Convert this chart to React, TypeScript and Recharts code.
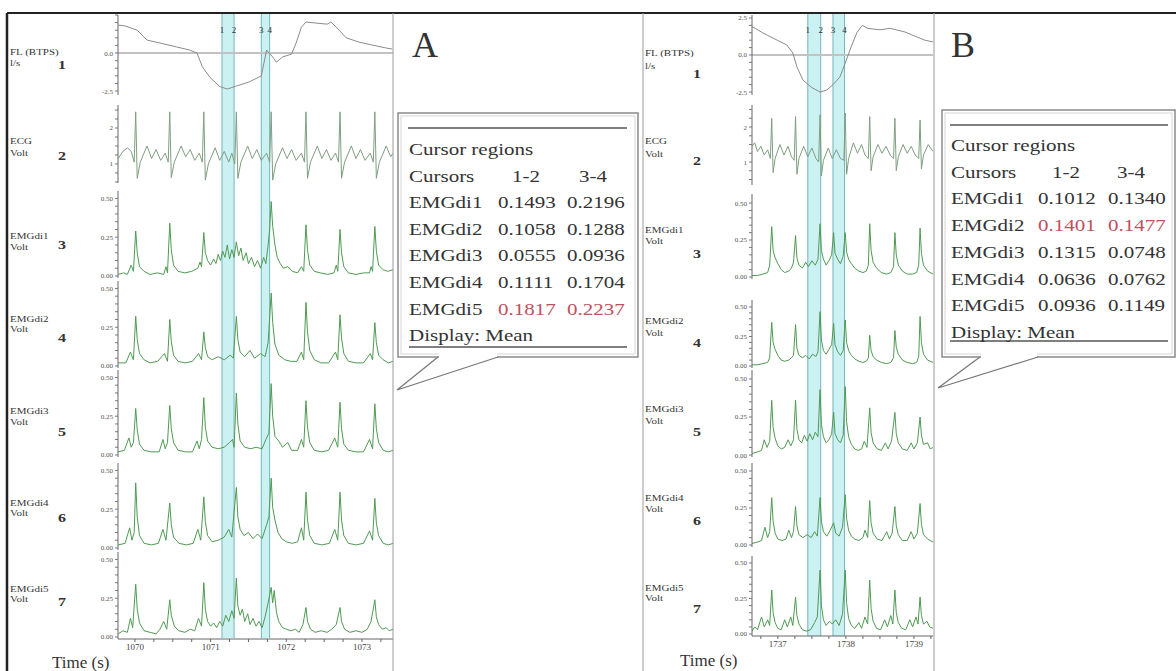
import React from "react";
import { LineChart, Line, XAxis, YAxis, ReferenceArea, ReferenceLine } from "recharts";

// ---- panel A : time (s) / value pairs ----
const A_FL = [
  [1069.78, 1.84], [1069.87, 1.78], [1070.03, 1.5], [1070.16, 0.85], [1070.33, 0.66], [1070.55, 0.4],
  [1070.72, 0.2], [1070.82, 0], [1070.89, -0.9], [1070.99, -1.6], [1071.12, -2.2], [1071.22, -2.37],
  [1071.34, -2.17], [1071.51, -1.9], [1071.67, -1.5], [1071.74, 0.2], [1071.82, -0.26], [1071.87, -0.6],
  [1071.95, -0.26], [1072.07, -0.07], [1072.13, 0.66], [1072.2, 1.7], [1072.26, 2.04], [1072.39, 1.97],
  [1072.54, 1.9], [1072.59, 2.04], [1072.7, 1.5], [1072.79, 1.0], [1072.96, 0.72], [1073.13, 0.53],
  [1073.32, 0.33], [1073.4, 0.26],
];

const A_ECG = [
  [1069.78, 1.15], [1069.84, 1.35], [1069.9, 1.45], [1069.95, 1.35], [1069.99, 1.05],
  [1070.01, 2.45], [1070.03, 0.6], [1070.07, 1.05], [1070.16, 1.5], [1070.22, 1.15], [1070.28, 1.4], [1070.34, 1.1], [1070.4, 1.3], [1070.44, 1.05],
  [1070.46, 2.45], [1070.48, 0.62], [1070.52, 1.05], [1070.61, 1.5], [1070.67, 1.2], [1070.73, 1.4], [1070.79, 1.1], [1070.85, 1.3], [1070.89, 1.05],
  [1070.91, 2.45], [1070.93, 0.55], [1070.97, 1.0], [1071.06, 1.45], [1071.12, 1.1], [1071.18, 1.35], [1071.24, 1.05], [1071.28, 1.3], [1071.32, 1.0],
  [1071.34, 2.45], [1071.36, 0.6], [1071.4, 1.05], [1071.49, 1.5], [1071.55, 1.15], [1071.61, 1.4], [1071.67, 1.1], [1071.74, 1.3], [1071.78, 1.05],
  [1071.8, 2.45], [1071.82, 0.55], [1071.86, 1.0], [1071.95, 1.45], [1072.01, 1.15], [1072.07, 1.4], [1072.13, 1.1], [1072.2, 1.3], [1072.24, 1.05],
  [1072.26, 2.45], [1072.28, 0.6], [1072.32, 1.05], [1072.41, 1.5], [1072.47, 1.15], [1072.53, 1.4], [1072.59, 1.1], [1072.65, 1.3], [1072.69, 1.05],
  [1072.71, 2.45], [1072.73, 0.6], [1072.77, 1.05], [1072.86, 1.5], [1072.92, 1.15], [1072.98, 1.4], [1073.04, 1.1], [1073.11, 1.3], [1073.15, 1.05],
  [1073.17, 2.45], [1073.19, 0.6], [1073.23, 1.05], [1073.32, 1.5], [1073.38, 1.2], [1073.41, 1.3],
];

const A_EMG1 = [
  [1069.78, 0.01], [1069.85, 0.02], [1069.9, 0.01], [1069.95, 0.07], [1069.98, 0.03], [1070.01, 0.29], [1070.03, 0.15], [1070.06, 0.06],
  [1070.12, 0.03], [1070.2, 0.01], [1070.3, 0.02], [1070.38, 0.01], [1070.41, 0.06], [1070.43, 0.02], [1070.46, 0.34], [1070.48, 0.17],
  [1070.51, 0.07], [1070.57, 0.03], [1070.66, 0.02], [1070.75, 0.03], [1070.83, 0.05], [1070.86, 0.09], [1070.88, 0.06], [1070.91, 0.28],
  [1070.93, 0.15], [1070.96, 0.1], [1071.0, 0.07], [1071.04, 0.11], [1071.07, 0.08], [1071.1, 0.14], [1071.13, 0.1], [1071.16, 0.16],
  [1071.19, 0.12], [1071.22, 0.2], [1071.25, 0.11], [1071.28, 0.17], [1071.31, 0.12], [1071.34, 0.22], [1071.37, 0.13], [1071.4, 0.18],
  [1071.43, 0.1], [1071.47, 0.15], [1071.5, 0.08], [1071.54, 0.12], [1071.58, 0.06], [1071.62, 0.1], [1071.66, 0.05], [1071.7, 0.12],
  [1071.73, 0.08], [1071.76, 0.2], [1071.78, 0.3], [1071.8, 0.48], [1071.82, 0.32], [1071.85, 0.2], [1071.88, 0.12], [1071.92, 0.08],
  [1071.96, 0.05], [1072.02, 0.06], [1072.08, 0.03], [1072.15, 0.02], [1072.2, 0.06], [1072.23, 0.03], [1072.26, 0.33], [1072.28, 0.17],
  [1072.31, 0.07], [1072.37, 0.03], [1072.45, 0.02], [1072.55, 0.01], [1072.63, 0.02], [1072.66, 0.07], [1072.68, 0.03], [1072.71, 0.3],
  [1072.73, 0.15], [1072.76, 0.06], [1072.82, 0.02], [1072.92, 0.01], [1073.02, 0.02], [1073.1, 0.02], [1073.12, 0.06], [1073.14, 0.03],
  [1073.17, 0.32], [1073.19, 0.16], [1073.22, 0.07], [1073.28, 0.04], [1073.34, 0.03], [1073.41, 0.04],
];

const A_EMG2 = [
  [1069.78, 0.02], [1069.88, 0.02], [1069.94, 0.09], [1069.98, 0.04], [1070.01, 0.32], [1070.03, 0.17], [1070.06, 0.08], [1070.12, 0.04],
  [1070.2, 0.02], [1070.3, 0.03], [1070.39, 0.08], [1070.43, 0.03], [1070.46, 0.3], [1070.48, 0.16], [1070.51, 0.07], [1070.57, 0.03],
  [1070.66, 0.02], [1070.76, 0.03], [1070.84, 0.08], [1070.88, 0.04], [1070.91, 0.22], [1070.93, 0.12], [1070.96, 0.06], [1071.02, 0.04],
  [1071.1, 0.06], [1071.18, 0.04], [1071.26, 0.07], [1071.3, 0.05], [1071.34, 0.32], [1071.36, 0.17], [1071.39, 0.09], [1071.45, 0.06],
  [1071.52, 0.1], [1071.58, 0.05], [1071.66, 0.08], [1071.72, 0.06], [1071.76, 0.15], [1071.8, 0.47], [1071.82, 0.28], [1071.85, 0.14],
  [1071.9, 0.07], [1071.98, 0.04], [1072.06, 0.03], [1072.14, 0.03], [1072.2, 0.09], [1072.23, 0.04], [1072.26, 0.41], [1072.28, 0.22],
  [1072.31, 0.1], [1072.37, 0.04], [1072.46, 0.02], [1072.56, 0.02], [1072.65, 0.09], [1072.68, 0.04], [1072.71, 0.33], [1072.73, 0.18],
  [1072.76, 0.08], [1072.82, 0.03], [1072.92, 0.02], [1073.02, 0.02], [1073.11, 0.08], [1073.14, 0.04], [1073.17, 0.28], [1073.19, 0.15],
  [1073.22, 0.07], [1073.28, 0.04], [1073.35, 0.02], [1073.41, 0.03],
];

const A_EMG3 = [
  [1069.78, 0.02], [1069.86, 0.03], [1069.92, 0.11], [1069.95, 0.05], [1069.98, 0.08], [1070.01, 0.3], [1070.03, 0.16], [1070.06, 0.07],
  [1070.12, 0.03], [1070.22, 0.02], [1070.32, 0.02], [1070.37, 0.1], [1070.4, 0.04], [1070.43, 0.08], [1070.46, 0.32], [1070.48, 0.17],
  [1070.51, 0.08], [1070.57, 0.03], [1070.67, 0.02], [1070.76, 0.02], [1070.82, 0.09], [1070.85, 0.04], [1070.88, 0.1], [1070.91, 0.37],
  [1070.93, 0.18], [1070.96, 0.09], [1071.02, 0.05], [1071.1, 0.04], [1071.18, 0.05], [1071.25, 0.08], [1071.29, 0.1], [1071.31, 0.05],
  [1071.34, 0.4], [1071.36, 0.2], [1071.39, 0.09], [1071.45, 0.05], [1071.53, 0.04], [1071.6, 0.05], [1071.68, 0.04], [1071.73, 0.1],
  [1071.77, 0.14], [1071.8, 0.46], [1071.82, 0.25], [1071.85, 0.12], [1071.9, 0.09], [1071.95, 0.05], [1072.02, 0.08], [1072.07, 0.03],
  [1072.15, 0.03], [1072.2, 0.1], [1072.23, 0.05], [1072.26, 0.35], [1072.28, 0.18], [1072.31, 0.08], [1072.37, 0.03], [1072.47, 0.02],
  [1072.56, 0.03], [1072.64, 0.11], [1072.68, 0.05], [1072.71, 0.34], [1072.73, 0.17], [1072.76, 0.07], [1072.82, 0.03], [1072.92, 0.02],
  [1073.02, 0.02], [1073.1, 0.1], [1073.14, 0.04], [1073.17, 0.33], [1073.19, 0.17], [1073.22, 0.08], [1073.28, 0.03], [1073.35, 0.02],
  [1073.41, 0.03],
];

const A_EMG4 = [
  [1069.78, 0.02], [1069.87, 0.03], [1069.93, 0.13], [1069.96, 0.05], [1069.99, 0.1], [1070.01, 0.42], [1070.03, 0.2], [1070.06, 0.08],
  [1070.12, 0.03], [1070.22, 0.02], [1070.31, 0.03], [1070.37, 0.12], [1070.41, 0.05], [1070.46, 0.29], [1070.48, 0.15], [1070.51, 0.07],
  [1070.58, 0.03], [1070.68, 0.02], [1070.77, 0.03], [1070.83, 0.12], [1070.87, 0.05], [1070.91, 0.33], [1070.93, 0.17], [1070.96, 0.08],
  [1071.02, 0.04], [1071.1, 0.05], [1071.18, 0.07], [1071.24, 0.12], [1071.28, 0.07], [1071.34, 0.39], [1071.36, 0.2], [1071.39, 0.12],
  [1071.44, 0.08], [1071.5, 0.1], [1071.56, 0.06], [1071.62, 0.09], [1071.68, 0.06], [1071.74, 0.15], [1071.77, 0.2], [1071.8, 0.45],
  [1071.82, 0.26], [1071.85, 0.18], [1071.89, 0.1], [1071.94, 0.06], [1072.0, 0.04], [1072.08, 0.03], [1072.15, 0.04], [1072.2, 0.13],
  [1072.23, 0.05], [1072.26, 0.36], [1072.28, 0.18], [1072.31, 0.08], [1072.37, 0.03], [1072.47, 0.02], [1072.57, 0.03], [1072.64, 0.12],
  [1072.68, 0.05], [1072.71, 0.36], [1072.73, 0.18], [1072.76, 0.08], [1072.82, 0.03], [1072.92, 0.02], [1073.02, 0.03], [1073.1, 0.11],
  [1073.14, 0.05], [1073.17, 0.32], [1073.19, 0.16], [1073.22, 0.08], [1073.28, 0.03], [1073.35, 0.02], [1073.41, 0.03],
];

const A_EMG5 = [
  [1069.78, 0.02], [1069.84, 0.04], [1069.9, 0.03], [1069.94, 0.12], [1069.97, 0.06], [1070.01, 0.34], [1070.03, 0.18], [1070.06, 0.09],
  [1070.12, 0.04], [1070.2, 0.03], [1070.28, 0.02], [1070.33, 0.05], [1070.38, 0.1], [1070.42, 0.05], [1070.46, 0.24], [1070.48, 0.14],
  [1070.52, 0.07], [1070.58, 0.04], [1070.66, 0.03], [1070.73, 0.05], [1070.79, 0.04], [1070.84, 0.12], [1070.88, 0.07], [1070.91, 0.35],
  [1070.93, 0.18], [1070.96, 0.1], [1071.0, 0.07], [1071.04, 0.09], [1071.08, 0.06], [1071.12, 0.1], [1071.16, 0.07], [1071.2, 0.14],
  [1071.24, 0.1], [1071.28, 0.17], [1071.31, 0.12], [1071.34, 0.38], [1071.36, 0.2], [1071.39, 0.14], [1071.42, 0.18], [1071.45, 0.1],
  [1071.49, 0.15], [1071.52, 0.08], [1071.56, 0.12], [1071.6, 0.07], [1071.64, 0.1], [1071.68, 0.06], [1071.72, 0.13], [1071.76, 0.22],
  [1071.8, 0.32], [1071.82, 0.22], [1071.84, 0.3], [1071.87, 0.16], [1071.9, 0.1], [1071.95, 0.06], [1072.0, 0.05], [1072.06, 0.04],
  [1072.12, 0.05], [1072.17, 0.03], [1072.22, 0.08], [1072.26, 0.19], [1072.28, 0.1], [1072.32, 0.05], [1072.38, 0.03], [1072.46, 0.04],
  [1072.54, 0.03], [1072.6, 0.05], [1072.66, 0.08], [1072.71, 0.19], [1072.73, 0.1], [1072.77, 0.05], [1072.84, 0.03], [1072.92, 0.04],
  [1073.0, 0.03], [1073.07, 0.05], [1073.12, 0.1], [1073.17, 0.24], [1073.19, 0.13], [1073.22, 0.08], [1073.27, 0.05], [1073.32, 0.06],
  [1073.36, 0.04], [1073.41, 0.05],
];

// ---- panel B ----
const B_FL = [
  [1736.62, 1.9], [1736.66, 1.82], [1736.78, 1.49], [1736.99, 1.0], [1737.13, 0.68], [1737.22, 0.14], [1737.28, -0.8],
  [1737.37, -1.7], [1737.5, -2.2], [1737.62, -2.5], [1737.72, -2.36], [1737.81, -2.0], [1737.91, -1.5], [1737.99, -0.55],
  [1738.06, 0.34], [1738.16, 1.5], [1738.24, 2.0], [1738.32, 1.8], [1738.5, 1.7], [1738.65, 1.8], [1738.87, 1.55],
  [1739.01, 1.28], [1739.16, 1.0], [1739.28, 0.88],
];

const B_ECG = [
  [1736.62, 1.45], [1736.66, 1.55], [1736.7, 1.3], [1736.75, 1.45], [1736.8, 1.2], [1736.85, 1.35], [1736.89, 1.1],
  [1736.91, 2.25], [1736.93, 0.7], [1736.96, 1.1], [1737.03, 1.5], [1737.09, 1.2], [1737.15, 1.45], [1737.2, 1.15], [1737.24, 1.05],
  [1737.26, 2.3], [1737.28, 0.65], [1737.31, 1.1], [1737.38, 1.45], [1737.44, 1.15], [1737.5, 1.4], [1737.56, 1.1], [1737.6, 1.0],
  [1737.62, 2.35], [1737.64, 0.6], [1737.67, 1.05], [1737.74, 1.4], [1737.8, 1.1], [1737.86, 1.35], [1737.92, 1.1], [1737.97, 1.05],
  [1737.99, 2.4], [1738.01, 0.65], [1738.04, 1.1], [1738.11, 1.55], [1738.17, 1.25], [1738.23, 1.5], [1738.28, 1.2], [1738.33, 1.1],
  [1738.35, 2.3], [1738.37, 0.75], [1738.4, 1.15], [1738.47, 1.5], [1738.53, 1.25], [1738.59, 1.45], [1738.65, 1.2], [1738.7, 1.1],
  [1738.72, 2.25], [1738.74, 0.75], [1738.77, 1.15], [1738.84, 1.5], [1738.9, 1.25], [1738.96, 1.45], [1739.02, 1.2], [1739.07, 1.1],
  [1739.09, 2.2], [1739.11, 0.8], [1739.14, 1.2], [1739.21, 1.5], [1739.28, 1.3],
];

const B_EMG1 = [
  [1736.62, 0.01], [1736.7, 0.01], [1736.78, 0.02], [1736.85, 0.03], [1736.88, 0.08], [1736.91, 0.34], [1736.93, 0.18], [1736.96, 0.13],
  [1737.0, 0.09], [1737.05, 0.05], [1737.1, 0.03], [1737.16, 0.04], [1737.2, 0.06], [1737.23, 0.1], [1737.26, 0.28], [1737.28, 0.13],
  [1737.31, 0.08], [1737.36, 0.06], [1737.41, 0.1], [1737.45, 0.07], [1737.5, 0.11], [1737.55, 0.08], [1737.59, 0.12], [1737.62, 0.36],
  [1737.64, 0.18], [1737.67, 0.12], [1737.71, 0.08], [1737.75, 0.11], [1737.79, 0.15], [1737.82, 0.3], [1737.84, 0.16], [1737.88, 0.12],
  [1737.92, 0.09], [1737.96, 0.14], [1737.99, 0.3], [1738.01, 0.17], [1738.04, 0.12], [1738.08, 0.09], [1738.13, 0.06], [1738.19, 0.04],
  [1738.25, 0.03], [1738.3, 0.04], [1738.33, 0.08], [1738.35, 0.36], [1738.37, 0.18], [1738.4, 0.1], [1738.45, 0.06], [1738.52, 0.03],
  [1738.6, 0.02], [1738.66, 0.03], [1738.7, 0.07], [1738.72, 0.3], [1738.74, 0.15], [1738.77, 0.08], [1738.83, 0.04], [1738.9, 0.02],
  [1738.98, 0.02], [1739.04, 0.03], [1739.07, 0.08], [1739.09, 0.33], [1739.11, 0.16], [1739.14, 0.08], [1739.2, 0.04], [1739.28, 0.02],
];

const B_EMG2 = [
  [1736.62, 0.01], [1736.7, 0.01], [1736.78, 0.02], [1736.85, 0.03], [1736.88, 0.07], [1736.91, 0.37], [1736.93, 0.2], [1736.96, 0.14],
  [1737.0, 0.09], [1737.05, 0.05], [1737.1, 0.04], [1737.16, 0.05], [1737.2, 0.07], [1737.23, 0.09], [1737.26, 0.35], [1737.28, 0.15],
  [1737.31, 0.09], [1737.36, 0.07], [1737.41, 0.09], [1737.46, 0.06], [1737.51, 0.1], [1737.56, 0.08], [1737.59, 0.12], [1737.62, 0.46],
  [1737.64, 0.22], [1737.67, 0.13], [1737.71, 0.1], [1737.75, 0.14], [1737.79, 0.18], [1737.82, 0.36], [1737.84, 0.18], [1737.88, 0.12],
  [1737.92, 0.09], [1737.96, 0.13], [1737.99, 0.39], [1738.01, 0.2], [1738.04, 0.13], [1738.08, 0.09], [1738.13, 0.06], [1738.19, 0.04],
  [1738.25, 0.03], [1738.3, 0.04], [1738.33, 0.07], [1738.35, 0.26], [1738.37, 0.13], [1738.4, 0.08], [1738.45, 0.05], [1738.52, 0.03],
  [1738.6, 0.02], [1738.66, 0.03], [1738.7, 0.07], [1738.72, 0.3], [1738.74, 0.16], [1738.77, 0.1], [1738.83, 0.05], [1738.9, 0.03],
  [1738.98, 0.02], [1739.04, 0.03], [1739.07, 0.08], [1739.09, 0.42], [1739.11, 0.2], [1739.14, 0.1], [1739.2, 0.05], [1739.28, 0.03],
];

const B_EMG3 = [
  [1736.62, 0.01], [1736.7, 0.02], [1736.76, 0.03], [1736.8, 0.1], [1736.84, 0.05], [1736.88, 0.09], [1736.91, 0.36], [1736.93, 0.18],
  [1736.96, 0.11], [1737.0, 0.06], [1737.05, 0.04], [1737.1, 0.05], [1737.15, 0.1], [1737.19, 0.06], [1737.23, 0.1], [1737.26, 0.36],
  [1737.28, 0.17], [1737.31, 0.1], [1737.35, 0.08], [1737.39, 0.13], [1737.43, 0.09], [1737.47, 0.14], [1737.51, 0.1], [1737.55, 0.15],
  [1737.59, 0.12], [1737.62, 0.43], [1737.64, 0.2], [1737.67, 0.12], [1737.71, 0.08], [1737.75, 0.1], [1737.79, 0.14], [1737.82, 0.28],
  [1737.84, 0.14], [1737.88, 0.1], [1737.92, 0.08], [1737.96, 0.13], [1737.99, 0.45], [1738.01, 0.22], [1738.04, 0.12], [1738.08, 0.07],
  [1738.13, 0.04], [1738.18, 0.03], [1738.23, 0.04], [1738.27, 0.09], [1738.31, 0.05], [1738.35, 0.31], [1738.37, 0.15], [1738.4, 0.08],
  [1738.46, 0.04], [1738.52, 0.03], [1738.58, 0.08], [1738.62, 0.04], [1738.67, 0.09], [1738.72, 0.28], [1738.74, 0.14], [1738.77, 0.08],
  [1738.83, 0.04], [1738.9, 0.03], [1738.96, 0.08], [1739.0, 0.04], [1739.05, 0.08], [1739.09, 0.25], [1739.11, 0.13], [1739.14, 0.07],
  [1739.2, 0.08], [1739.24, 0.04], [1739.28, 0.05],
];

const B_EMG4 = [
  [1736.62, 0.01], [1736.7, 0.02], [1736.76, 0.03], [1736.81, 0.12], [1736.85, 0.05], [1736.88, 0.09], [1736.91, 0.32], [1736.93, 0.16],
  [1736.96, 0.08], [1737.0, 0.04], [1737.06, 0.03], [1737.12, 0.04], [1737.16, 0.1], [1737.2, 0.05], [1737.23, 0.09], [1737.26, 0.26],
  [1737.28, 0.13], [1737.31, 0.07], [1737.37, 0.05], [1737.43, 0.07], [1737.49, 0.05], [1737.54, 0.09], [1737.58, 0.06], [1737.62, 0.32],
  [1737.64, 0.16], [1737.67, 0.09], [1737.72, 0.06], [1737.77, 0.1], [1737.82, 0.15], [1737.85, 0.08], [1737.9, 0.06], [1737.95, 0.12],
  [1737.99, 0.34], [1738.01, 0.18], [1738.04, 0.1], [1738.08, 0.06], [1738.13, 0.04], [1738.19, 0.03], [1738.25, 0.05], [1738.28, 0.1],
  [1738.32, 0.05], [1738.35, 0.3], [1738.37, 0.15], [1738.4, 0.08], [1738.46, 0.04], [1738.53, 0.03], [1738.6, 0.09], [1738.64, 0.04],
  [1738.68, 0.08], [1738.72, 0.26], [1738.74, 0.13], [1738.77, 0.07], [1738.83, 0.03], [1738.9, 0.03], [1738.96, 0.09], [1739.0, 0.04],
  [1739.05, 0.08], [1739.09, 0.28], [1739.11, 0.14], [1739.14, 0.07], [1739.2, 0.04], [1739.28, 0.02],
];

const B_EMG5 = [
  [1736.62, 0.02], [1736.66, 0.05], [1736.7, 0.03], [1736.76, 0.12], [1736.8, 0.05], [1736.85, 0.1], [1736.88, 0.06], [1736.91, 0.31],
  [1736.93, 0.15], [1736.96, 0.08], [1737.0, 0.04], [1737.05, 0.03], [1737.1, 0.1], [1737.14, 0.05], [1737.19, 0.12], [1737.22, 0.06],
  [1737.26, 0.26], [1737.28, 0.13], [1737.31, 0.07], [1737.36, 0.03], [1737.42, 0.02], [1737.48, 0.03], [1737.54, 0.08], [1737.58, 0.12],
  [1737.62, 0.45], [1737.64, 0.2], [1737.67, 0.1], [1737.71, 0.06], [1737.76, 0.09], [1737.8, 0.07], [1737.85, 0.1], [1737.9, 0.06],
  [1737.95, 0.14], [1737.99, 0.45], [1738.01, 0.22], [1738.04, 0.11], [1738.08, 0.06], [1738.13, 0.04], [1738.19, 0.08], [1738.23, 0.04],
  [1738.28, 0.12], [1738.32, 0.07], [1738.35, 0.38], [1738.37, 0.18], [1738.4, 0.09], [1738.45, 0.04], [1738.51, 0.03], [1738.57, 0.1],
  [1738.61, 0.05], [1738.66, 0.13], [1738.69, 0.07], [1738.72, 0.31], [1738.74, 0.15], [1738.77, 0.08], [1738.82, 0.04], [1738.88, 0.03],
  [1738.94, 0.1], [1738.98, 0.05], [1739.03, 0.12], [1739.06, 0.07], [1739.09, 0.26], [1739.11, 0.13], [1739.14, 0.07], [1739.19, 0.09],
  [1739.23, 0.05], [1739.28, 0.04],
];

// cursor positions (s): 1, 2, 3, 4
const A_CURSORS = [1071.15, 1071.31, 1071.67, 1071.78];
const B_CURSORS = [1737.44, 1737.63, 1737.81, 1737.98];

// ticks
const EMG_TICKS = [0, 0.05, 0.1, 0.15, 0.2, 0.25, 0.3, 0.35, 0.4, 0.45, 0.5];
const EMG_LABELS = [0, 0.25, 0.5];
const FL_TICKS = [-2.5, -2, -1.5, -1, -0.5, 0, 0.5, 1, 1.5, 2, 2.5];
const FL_LABELS_A = [-2.5, 0];
const FL_LABELS_B = [-2.5, 0, 2.5];
const ECG_TICKS = [0.5, 0.75, 1, 1.25, 1.5, 1.75, 2, 2.25, 2.5];
const ECG_LABELS = [1, 2];
const A_X_TICKS = [1070, 1070.25, 1070.5, 1070.75, 1071, 1071.25, 1071.5, 1071.75, 1072, 1072.25, 1072.5, 1072.75, 1073, 1073.25];
const B_X_TICKS = [1736.75, 1737, 1737.25, 1737.5, 1737.75, 1738, 1738.25, 1738.5, 1738.75, 1739, 1739.25];

// callout tables
const CHANNELS = ["EMGdi1", "EMGdi2", "EMGdi3", "EMGdi4", "EMGdi5"];
const A_MEAN_12 = [0.1493, 0.1058, 0.0555, 0.1111, 0.1817];
const A_MEAN_34 = [0.2196, 0.1288, 0.0936, 0.1704, 0.2237];
const B_MEAN_12 = [0.1012, 0.1401, 0.1315, 0.0636, 0.0936];
const B_MEAN_34 = [0.134, 0.1477, 0.0748, 0.0762, 0.1149];

const TRACE_NAMES = [
  ["FL (BTPS)", "l/s"], ["ECG", "Volt"], ["EMGdi1", "Volt"], ["EMGdi2", "Volt"],
  ["EMGdi3", "Volt"], ["EMGdi4", "Volt"], ["EMGdi5", "Volt"],
];

const FONT = "'Liberation Serif', 'Times New Roman', serif";
const GRAY = "#8c8c8c";
const ECG_C = "#7f9f80";
const EMG_C = "#4f9a52";
const PAD = 5;

const emg = { ticks: EMG_TICKS, labels: EMG_LABELS, digits: 2, color: EMG_C };

const A_ROWS = [
  { data: A_FL, top: 15, h: 80, domain: [-2.76, 2.5], ticks: FL_TICKS, labels: FL_LABELS_A, digits: 1, color: GRAY, zero: true },
  { data: A_ECG, top: 105, h: 78, domain: [0.47, 2.64], ticks: ECG_TICKS, labels: ECG_LABELS, digits: 0, color: ECG_C },
  { data: A_EMG1, top: 191, h: 87, domain: [-0.013, 0.548], ...emg },
  { data: A_EMG2, top: 281, h: 87, domain: [-0.013, 0.548], ...emg },
  { data: A_EMG3, top: 370, h: 87, domain: [-0.013, 0.548], ...emg },
  { data: A_EMG4, top: 463, h: 87, domain: [-0.013, 0.548], ...emg },
  { data: A_EMG5, top: 552, h: 87, domain: [-0.013, 0.548], ...emg },
];

const B_ROWS = [
  { data: B_FL, top: 15, h: 80, domain: [-2.7, 2.7], ticks: FL_TICKS, labels: FL_LABELS_B, digits: 1, color: GRAY, zero: true },
  { data: B_ECG, top: 105, h: 80, domain: [0.343, 2.63], ticks: ECG_TICKS, labels: ECG_LABELS, digits: 0, color: ECG_C },
  { data: B_EMG1, top: 194, h: 85, domain: [-0.0135, 0.561], ...emg },
  { data: B_EMG2, top: 300, h: 68, domain: [-0.017, 0.559], ...emg },
  { data: B_EMG3, top: 370, h: 87, domain: [-0.013, 0.559], ...emg },
  { data: B_EMG4, top: 463, h: 84, domain: [-0.0135, 0.554], ...emg },
  { data: B_EMG5, top: 556, h: 80, domain: [-0.014, 0.549], ...emg },
];

// label centres: [name y, unit y, numeral y]
const A_LABEL_Y = [[51, 62, 63], [140, 152, 154], [235, 246, 243], [318, 328, 336], [410, 421, 430], [502, 512, 516], [588, 598, 600]];
const B_LABEL_Y = [[52, 65, 72], [140, 153, 159], [229, 240, 252], [320, 332, 341], [408, 420, 430], [497, 508, 519], [587, 597, 607]];

function Trace({ row, axisX, width, xDomain, xTicks }: any) {
  const pts = row.data.map(([t, v]: number[]) => ({ t, v }));
  const axisH = xTicks ? 24 : 0;
  const bottomPad = xTicks ? 0 : PAD;
  return (
    <div style={{ position: "absolute", left: axisX - 30, top: row.top - PAD }}>
      <LineChart
        width={width + 30}
        height={row.h + axisH + PAD + bottomPad}
        data={pts}
        margin={{ top: PAD, right: 0, bottom: bottomPad, left: 0 }}
      >
        <XAxis
          type="number"
          dataKey="t"
          domain={xDomain}
          allowDataOverflow
          hide={!xTicks}
          ticks={xTicks}
          interval={0}
          height={24}
          tickSize={3}
          tick={{ fontSize: 9, fill: "#444", fontFamily: FONT }}
          tickFormatter={(v: number) => (Number.isInteger(v) ? String(v) : "")}
          axisLine={{ stroke: "#666" }}
          tickLine={{ stroke: "#666" }}
        />
        <YAxis
          type="number"
          domain={row.domain}
          allowDataOverflow
          width={30}
          ticks={row.ticks}
          interval={0}
          tickSize={3}
          tick={{ fontSize: 7, fill: "#555", fontFamily: FONT }}
          tickFormatter={(v: number) => (row.labels.includes(v) ? v.toFixed(row.digits) : "")}
          axisLine={{ stroke: "#666" }}
          tickLine={{ stroke: "#777" }}
        />
        {row.zero && <ReferenceLine y={0} stroke="#c2c2c2" strokeWidth={2} />}
        <Line type="linear" dataKey="v" stroke={row.color} strokeWidth={1} dot={false} isAnimationActive={false} />
      </LineChart>
    </div>
  );
}

function Bands({ axisX, width, top, height, xDomain, cursors }: any) {
  const pts = cursors.map((t: number) => ({ t, v: 0 }));
  return (
    <div style={{ position: "absolute", left: axisX, top }}>
      <LineChart width={width} height={height} data={pts} margin={{ top: 0, right: 0, bottom: 0, left: 0 }}>
        <XAxis type="number" dataKey="t" domain={xDomain} allowDataOverflow hide />
        <YAxis type="number" domain={[0, 1]} hide />
        <ReferenceArea x1={cursors[0]} x2={cursors[1]} fill="#c6f0f2" fillOpacity={0.9} stroke="none" />
        <ReferenceArea x1={cursors[2]} x2={cursors[3]} fill="#c6f0f2" fillOpacity={0.9} stroke="none" />
        {cursors.map((c: number, i: number) => (
          <ReferenceLine
            key={i}
            x={c}
            stroke="#72b6ba"
            strokeWidth={1}
            label={{ value: String(i + 1), position: "insideTop", offset: 14, fontSize: 9, fill: "#333", fontFamily: FONT }}
          />
        ))}
        <Line dataKey="v" stroke="none" dot={false} isAnimationActive={false} />
      </LineChart>
    </div>
  );
}

function Txt({ x, y, size, sy = 0.82, fill = "#333", weight = "normal", children }: any) {
  return (
    <text transform={`translate(${x},${y}) scale(1,${sy})`} fontSize={size} fill={fill} fontWeight={weight} fontFamily={FONT}>
      {children}
    </text>
  );
}

function Labels({ x, ys }: any) {
  return (
    <g>
      {TRACE_NAMES.map((n, i) => (
        <g key={i}>
          <Txt x={x} y={ys[i][0] + 4} size={11} fill="#333">{n[0]}</Txt>
          <Txt x={x} y={ys[i][1] + 4} size={11} fill="#333">{n[1]}</Txt>
          <Txt x={x + 48} y={ys[i][2] + 6} size={16} weight="bold" fill="#333">{String(i + 1)}</Txt>
        </g>
      ))}
    </g>
  );
}

function Callout({ box, ptr, lineTop, lineBot, tx, c1, c2, h1, h2, y0, dy, m12, m34, red }: any) {
  const [x0, yb0, x1, y1] = box;
  const [pa, pb, tipX, tipY] = ptr;
  const rows = CHANNELS.map((c, i) => {
    const fill = i === red ? "#c0505e" : "#333";
    const y = y0 + dy * (i + 2);
    return (
      <g key={c}>
        <Txt x={tx} y={y} size={21} sy={0.84}>{c}</Txt>
        <Txt x={c1} y={y} size={21} sy={0.84} fill={fill}>{m12[i].toFixed(4)}</Txt>
        <Txt x={c2} y={y} size={21} sy={0.84} fill={fill}>{m34[i].toFixed(4)}</Txt>
      </g>
    );
  });
  return (
    <g>
      <rect x={x0} y={yb0} width={x1 - x0} height={y1 - yb0} fill="#fff" stroke="#8a8a8a" strokeWidth={1.5} />
      <rect x={x0 + 3} y={yb0 + 3} width={x1 - x0 - 6} height={y1 - yb0 - 6} fill="none" stroke="#d6d6d6" strokeWidth={1} />
      <rect x={pa + 1} y={y1 - 4} width={pb - pa - 2} height={6} fill="#fff" />
      <polyline points={`${pa},${y1} ${tipX},${tipY} ${pb},${y1}`} fill="none" stroke="#777" strokeWidth={1.2} />
      <line x1={lineTop[0]} x2={lineTop[1]} y1={lineTop[2]} y2={lineTop[2]} stroke="#555" strokeWidth={1.5} />
      <line x1={lineBot[0]} x2={lineBot[1]} y1={lineBot[2]} y2={lineBot[2]} stroke="#555" strokeWidth={1.5} />
      <Txt x={tx} y={y0} size={21} sy={0.84}>Cursor regions</Txt>
      <Txt x={tx} y={y0 + dy} size={21} sy={0.84}>Cursors</Txt>
      <Txt x={h1} y={y0 + dy} size={21} sy={0.84}>1-2</Txt>
      <Txt x={h2} y={y0 + dy} size={21} sy={0.84}>3-4</Txt>
      {rows}
      <Txt x={tx} y={y0 + dy * 7} size={21} sy={0.84}>Display: Mean</Txt>
    </g>
  );
}

export default function App() {
  const aDomain = [1069.776, 1073.41];
  const bDomain = [1736.62, 1739.28];
  return (
    <div style={{ position: "absolute", left: 0, top: 0, width: 1176, height: 671, background: "#fff", overflow: "hidden" }}>
      <Bands axisX={118} width={275} top={13} height={625} xDomain={aDomain} cursors={A_CURSORS} />
      <Bands axisX={752} width={181} top={13} height={623} xDomain={bDomain} cursors={B_CURSORS} />
      {A_ROWS.map((r, i) => (
        <Trace key={"a" + i} row={r} axisX={118} width={275} xDomain={aDomain} xTicks={i === 6 ? A_X_TICKS : undefined} />
      ))}
      {B_ROWS.map((r, i) => (
        <Trace key={"b" + i} row={r} axisX={752} width={181} xDomain={bDomain} xTicks={i === 6 ? B_X_TICKS : undefined} />
      ))}
      <svg width={1176} height={671} style={{ position: "absolute", left: 0, top: 0, pointerEvents: "none" }}>
        <line x1={7} x2={1176} y1={13} y2={13} stroke="#222" strokeWidth={2} />
        <line x1={7} x2={7} y1={13} y2={671} stroke="#222" strokeWidth={2.5} />
        <line x1={393} x2={393} y1={13} y2={671} stroke="#9a9a9a" strokeWidth={1} />
        <line x1={643} x2={643} y1={13} y2={671} stroke="#9a9a9a" strokeWidth={1} />
        <line x1={934} x2={934} y1={13} y2={671} stroke="#9a9a9a" strokeWidth={1} />
        <Labels x={10} ys={A_LABEL_Y} />
        <Labels x={645} ys={B_LABEL_Y} />
        <Txt x={52} y={668} size={17} sy={0.95}>Time (s)</Txt>
        <Txt x={680} y={666} size={17} sy={0.95}>Time (s)</Txt>
        <Txt x={412} y={57} size={36} sy={1}>A</Txt>
        <Txt x={951} y={57} size={36} sy={1}>B</Txt>
        <Callout
          box={[398, 113, 638, 357]}
          ptr={[438, 498, 397, 390]}
          lineTop={[408, 627, 128]}
          lineBot={[409, 627, 347]}
          tx={409} c1={498} c2={567} h1={512} h2={579}
          y0={155} dy={26.6}
          m12={A_MEAN_12} m34={A_MEAN_34} red={4}
        />
        <Callout
          box={[942, 110, 1175, 357]}
          ptr={[980, 1038, 938, 388]}
          lineTop={[950, 1168, 125]}
          lineBot={[950, 1168, 341]}
          tx={951} c1={1038} c2={1108} h1={1052} h2={1117}
          y0={151} dy={26.7}
          m12={B_MEAN_12} m34={B_MEAN_34} red={1}
        />
      </svg>
    </div>
  );
}
